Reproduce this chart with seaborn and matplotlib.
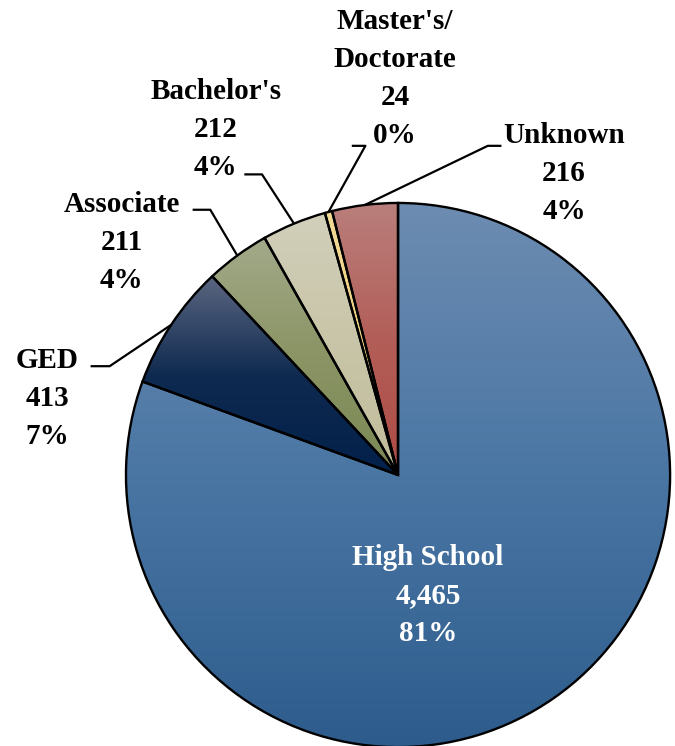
import numpy as np
import matplotlib
matplotlib.use('Agg')
import matplotlib.pyplot as plt
from matplotlib.colors import LinearSegmentedColormap
import seaborn as sns

# data
categories = ['High School', 'GED', 'Associate', "Bachelor's", "Master's/\nDoctorate", 'Unknown']
counts = [4465, 413, 211, 212, 24, 216]

# gradient colours (top, middle, bottom) per slice
top_colors = ['#6d8cb1', '#5b6680', '#a3aa8a', '#d2cfbb', '#f3dc98', '#b97f7c']
mid_colors = ['#4a76a4', '#0f2a50', '#8a9464', '#c8c5a8', '#eccd80', '#b35e58']
bottom_colors = ['#2d5c8c', '#02204a', '#7c8856', '#c1bd9b', '#e6bf6c', '#ad4c45']

# label text centres and leader elbows (data units, radius = 1)
label_pos = [(0.11, -0.442), (-1.29, 0.28), (-1.015, 0.855), (-0.67, 1.27), (-0.011, 1.457), (0.61, 1.108)]
elbows = [None, (-1.06, 0.40), (-0.69, 0.975), (-0.50, 1.105), (-0.12, 1.21), (0.33, 1.21)]
hook = [None, -0.07, -0.065, -0.065, -0.05, 0.05]

sns.set_style('white')
plt.rcParams['font.family'] = ['Liberation Serif', 'DejaVu Serif']

fig = plt.figure(figsize=(6.75, 7.46), dpi=100)
ax = fig.add_axes([0, 0, 1, 1])

wedges, _ = ax.pie(counts, startangle=90, counterclock=False, radius=1,
                   wedgeprops=dict(edgecolor='black', linewidth=1.7, facecolor='none'))

total = sum(counts)
for i, w in enumerate(wedges):
    v = w.get_path().vertices
    x0, x1 = v[:, 0].min(), v[:, 0].max()
    y0, y1 = v[:, 1].min(), v[:, 1].max()
    cmap = LinearSegmentedColormap.from_list('g', [bottom_colors[i], mid_colors[i], top_colors[i]])
    grad = np.linspace(1, 0, 256).reshape(-1, 1)
    im = ax.imshow(grad, cmap=cmap, extent=[x0, x1, y0, y1], aspect='auto',
                   vmin=0, vmax=1, zorder=0.5)
    im.set_clip_path(w)
    w.set_zorder(1)

    pct = counts[i] / total * 100
    txt = f"{categories[i]}\n{counts[i]:,}\n{pct:.0f}%"
    col = 'white' if i == 0 else 'black'
    lx, ly = label_pos[i]
    ax.text(lx, ly, txt, ha='center', va='center', fontsize=21, fontweight='bold',
            color=col, linespacing=1.52, zorder=3)

    if elbows[i] is not None:
        ang = np.deg2rad((w.theta1 + w.theta2) / 2)
        px, py = np.cos(ang), np.sin(ang)
        ex, ey = elbows[i]
        ax.plot([px, ex, ex + hook[i]], [py, ey, ey], color='black', lw=1.6,
                zorder=2, solid_capstyle='butt')

ax.set_xlim(-1.463, 1.018)
ax.set_ylim(-0.996, 1.746)
ax.set_aspect('equal')
ax.axis('off')

fig.savefig('out.png', dpi=100)
